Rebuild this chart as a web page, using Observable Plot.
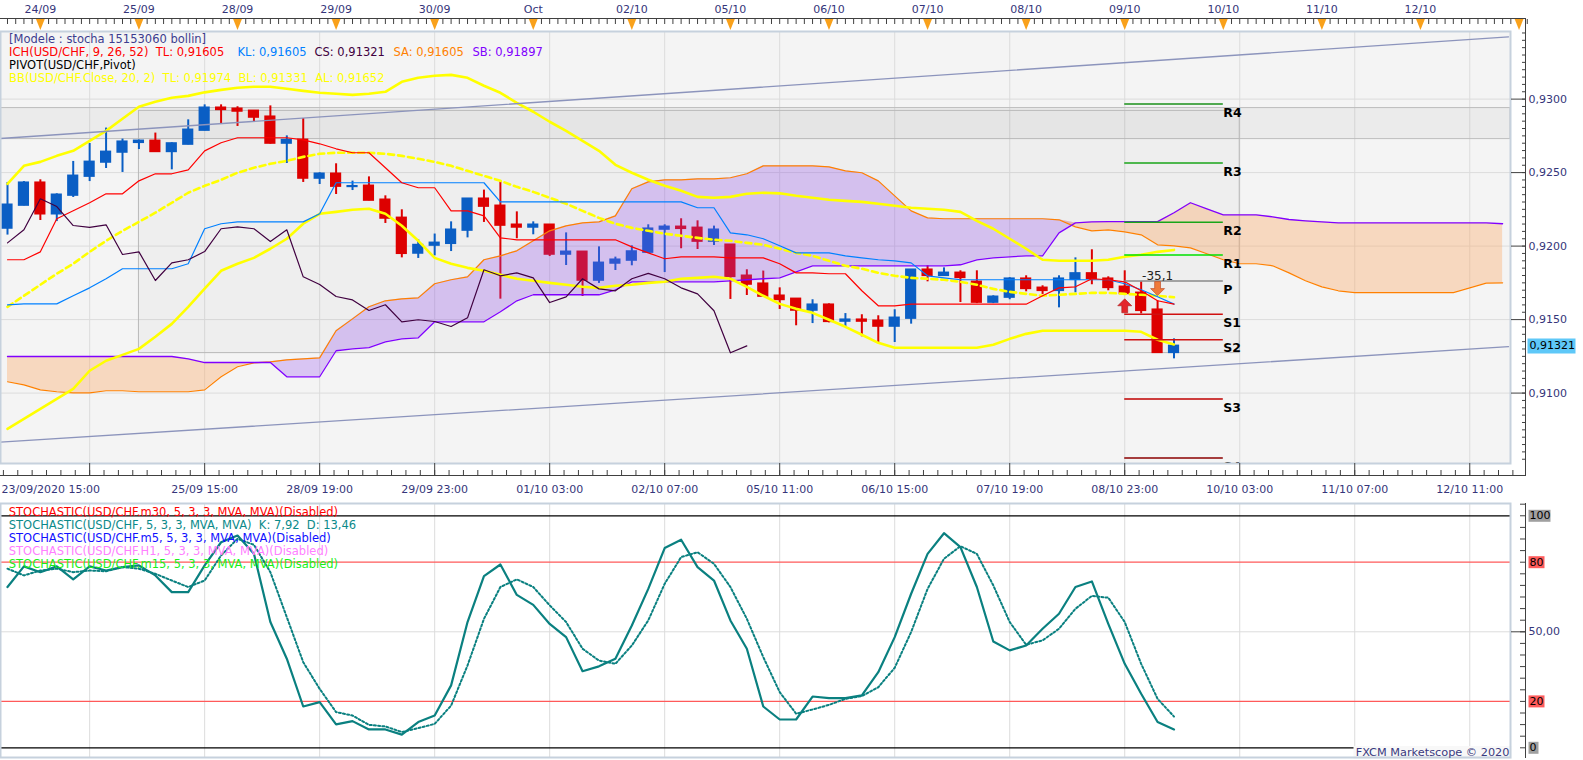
<!DOCTYPE html>
<html>
<head>
<meta charset="utf-8">
<script src="https://cdn.jsdelivr.net/npm/d3@7"></script>
<script src="https://cdn.jsdelivr.net/npm/@observablehq/plot@0.6"></script>
<style>
html, body { margin: 0; padding: 0; background: #ffffff; }
#chart { position: relative; width: 1583px; height: 760px; overflow: hidden; background: #ffffff; }
#chart svg { position: absolute; left: 0; display: block; }
</style>
</head>
<body>
<div id="chart"></div>
<script>
// ---------- USD/CHF 4-hour candles, index 0 = 23/09/2020 15:00 ----------
const open = [0.92120,0.92276,0.92431,0.92217,0.92344,0.92473,0.92569,0.92637,0.92703,0.92716,
0.92641,0.92691,0.92786,0.92941,0.92934,0.92920,0.92880,0.92698,0.92723,0.92460,
0.92492,0.92403,0.92410,0.92315,0.92192,0.91950,0.92004,0.92016,0.92106,0.92322,
0.92274,0.92145,0.92127,0.92145,0.91943,0.91961,0.91766,0.91882,0.91902,0.91956,
0.92113,0.92131,0.92124,0.92031,0.92009,0.91798,0.91744,0.91662,0.91641,0.91562,
0.91601,0.91487,0.91499,0.91492,0.91453,0.91507,0.91839,0.91798,0.91818,0.91757,
0.91616,0.91650,0.91778,0.91716,0.91696,0.91771,0.91814,0.91778,0.91723,0.91682,
0.91567,0.91274];
const high = [0.92433,0.92439,0.92451,0.92356,0.92576,0.92698,0.92803,0.92728,0.92721,0.92769,
0.92703,0.92859,0.92961,0.92961,0.92948,0.92922,0.92954,0.92750,0.92868,0.92499,
0.92560,0.92442,0.92471,0.92342,0.92247,0.92043,0.92082,0.92165,0.92323,0.92381,
0.92437,0.92233,0.92165,0.92147,0.92090,0.91963,0.91995,0.91925,0.92002,0.92145,
0.92145,0.92186,0.92172,0.92136,0.92010,0.91839,0.91830,0.91716,0.91642,0.91635,
0.91607,0.91541,0.91533,0.91526,0.91567,0.91840,0.91866,0.91852,0.91832,0.91832,
0.91662,0.91785,0.91798,0.91730,0.91798,0.91920,0.91975,0.91791,0.91832,0.91757,
0.91628,0.91369];
const low = [0.92075,0.92274,0.92174,0.92167,0.92331,0.92439,0.92528,0.92501,0.92657,0.92639,
0.92519,0.92689,0.92784,0.92830,0.92814,0.92844,0.92694,0.92562,0.92433,0.92419,
0.92351,0.92378,0.92308,0.92154,0.91920,0.91916,0.91934,0.91963,0.92056,0.92161,
0.91639,0.92050,0.92077,0.91929,0.91868,0.91657,0.91746,0.91834,0.91866,0.91954,
0.91820,0.91982,0.91977,0.92004,0.91637,0.91664,0.91655,0.91569,0.91458,0.91473,
0.91478,0.91446,0.91383,0.91344,0.91344,0.91469,0.91757,0.91796,0.91616,0.91609,
0.91609,0.91635,0.91689,0.91671,0.91580,0.91682,0.91737,0.91696,0.91669,0.91539,
0.91270,0.91233];
const close = [0.92281,0.92431,0.92217,0.92349,0.92478,0.92573,0.92641,0.92710,0.92716,0.92641,
0.92698,0.92791,0.92941,0.92927,0.92916,0.92875,0.92698,0.92721,0.92460,0.92492,
0.92405,0.92407,0.92310,0.92188,0.91948,0.92007,0.92022,0.92111,0.92322,0.92269,
0.92140,0.92127,0.92145,0.91943,0.91961,0.91766,0.91886,0.91907,0.91963,0.92118,
0.92131,0.92118,0.92031,0.92111,0.91791,0.91739,0.91657,0.91634,0.91562,0.91601,
0.91485,0.91499,0.91487,0.91453,0.91512,0.91839,0.91798,0.91818,0.91784,0.91616,
0.91655,0.91778,0.91709,0.91696,0.91778,0.91814,0.91778,0.91716,0.91675,0.91560,
0.91274,0.91321];

// ---------- Bollinger (20, 2) ----------
const bbUpper = [0.92424,0.92546,0.92573,0.92614,0.92648,0.92716,0.92784,0.92866,0.92948,0.92982,
0.93009,0.93022,0.93046,0.93063,0.93077,0.93084,0.93084,0.93070,0.93056,0.93043,
0.93036,0.93029,0.93036,0.93050,0.93118,0.93145,0.93159,0.93165,0.93145,0.93091,
0.93043,0.92975,0.92914,0.92846,0.92784,0.92716,0.92648,0.92553,0.92499,0.92451,
0.92410,0.92376,0.92335,0.92329,0.92335,0.92356,0.92363,0.92359,0.92342,0.92329,
0.92315,0.92308,0.92301,0.92288,0.92274,0.92261,0.92254,0.92247,0.92233,0.92172,
0.92118,0.92050,0.91982,0.91907,0.91900,0.91900,0.91900,0.91907,0.91927,0.91941,
0.91961,0.91974];
const bbMiddle = [0.91587,0.91662,0.91737,0.91812,0.91880,0.91961,0.92036,0.92104,0.92165,0.92227,
0.92295,0.92363,0.92410,0.92451,0.92499,0.92533,0.92560,0.92580,0.92607,0.92628,
0.92635,0.92635,0.92635,0.92628,0.92614,0.92594,0.92573,0.92546,0.92512,0.92478,
0.92444,0.92403,0.92369,0.92329,0.92288,0.92240,0.92192,0.92152,0.92124,0.92104,
0.92084,0.92070,0.92056,0.92043,0.92036,0.92022,0.92009,0.91982,0.91954,0.91934,
0.91900,0.91866,0.91846,0.91818,0.91798,0.91784,0.91778,0.91771,0.91757,0.91737,
0.91709,0.91689,0.91675,0.91662,0.91669,0.91675,0.91682,0.91682,0.91675,0.91669,
0.91662,0.91652];
const bbLower = [0.90757,0.90825,0.90893,0.90961,0.91029,0.91152,0.91220,0.91260,0.91301,0.91383,
0.91471,0.91587,0.91710,0.91832,0.91880,0.91920,0.91982,0.92050,0.92152,0.92220,
0.92233,0.92247,0.92254,0.92220,0.92138,0.92036,0.91920,0.91880,0.91852,0.91832,
0.91805,0.91778,0.91764,0.91750,0.91737,0.91723,0.91716,0.91730,0.91737,0.91750,
0.91757,0.91778,0.91784,0.91791,0.91778,0.91723,0.91662,0.91607,0.91573,0.91546,
0.91499,0.91451,0.91397,0.91342,0.91308,0.91308,0.91308,0.91308,0.91308,0.91308,
0.91329,0.91369,0.91403,0.91424,0.91424,0.91424,0.91424,0.91424,0.91424,0.91417,
0.91363,0.91331];

// ---------- Ichimoku (9, 26, 52) ----------
const tenkan = [0.91907,0.91907,0.91961,0.92186,0.92240,0.92295,0.92356,0.92356,0.92444,0.92492,
0.92492,0.92519,0.92648,0.92703,0.92737,0.92737,0.92737,0.92737,0.92723,0.92696,
0.92662,0.92635,0.92635,0.92533,0.92431,0.92397,0.92397,0.92240,0.92240,0.92206,
0.92056,0.92043,0.92043,0.92043,0.92043,0.92043,0.92043,0.92043,0.91995,0.91954,
0.91914,0.91927,0.91927,0.91927,0.91920,0.91920,0.91920,0.91880,0.91818,0.91818,
0.91812,0.91812,0.91696,0.91594,0.91594,0.91605,0.91605,0.91605,0.91605,0.91605,
0.91605,0.91605,0.91605,0.91662,0.91716,0.91723,0.91778,0.91771,0.91757,0.91696,
0.91628,0.91605];
const kijun = [0.91600,0.91607,0.91607,0.91607,0.91662,0.91716,0.91778,0.91846,0.91846,0.91846,
0.91846,0.91880,0.92118,0.92152,0.92165,0.92165,0.92165,0.92165,0.92165,0.92220,
0.92431,0.92431,0.92431,0.92431,0.92431,0.92431,0.92431,0.92431,0.92431,0.92431,
0.92301,0.92301,0.92301,0.92301,0.92301,0.92301,0.92301,0.92301,0.92301,0.92301,
0.92301,0.92301,0.92261,0.92261,0.92090,0.92077,0.92050,0.92002,0.91954,0.91954,
0.91954,0.91934,0.91920,0.91907,0.91900,0.91886,0.91798,0.91784,0.91771,0.91771,
0.91771,0.91771,0.91771,0.91771,0.91771,0.91771,0.91771,0.91771,0.91744,0.91703,
0.91655,0.91605];
const spanA = [0.91077,0.91056,0.91022,0.91009,0.91002,0.91002,0.91016,0.91016,0.91009,0.91009,
0.91009,0.91009,0.91022,0.91111,0.91179,0.91206,0.91213,0.91226,0.91233,0.91240,
0.91424,0.91505,0.91587,0.91628,0.91641,0.91648,0.91744,0.91771,0.91791,0.91907,
0.91934,0.91968,0.92036,0.92104,0.92138,0.92158,0.92165,0.92206,0.92390,0.92437,
0.92451,0.92451,0.92458,0.92458,0.92465,0.92492,0.92546,0.92546,0.92546,0.92546,
0.92539,0.92512,0.92499,0.92444,0.92342,0.92240,0.92192,0.92186,0.92186,0.92186,
0.92186,0.92186,0.92186,0.92186,0.92179,0.92131,0.92104,0.92111,0.92097,0.92077,
0.92009,0.92002,0.91988,0.91948,0.91907,0.91880,0.91880,0.91866,0.91818,0.91764,
0.91723,0.91696,0.91684,0.91684,0.91684,0.91684,0.91684,0.91684,0.91684,0.91716,
0.91748,0.91750];
const spanB = [0.91249,0.91249,0.91249,0.91249,0.91249,0.91249,0.91249,0.91249,0.91249,0.91249,
0.91249,0.91233,0.91208,0.91208,0.91208,0.91208,0.91208,0.91111,0.91111,0.91111,
0.91288,0.91301,0.91310,0.91349,0.91369,0.91376,0.91485,0.91485,0.91485,0.91485,
0.91553,0.91628,0.91669,0.91669,0.91669,0.91669,0.91669,0.91703,0.91757,0.91757,
0.91757,0.91757,0.91757,0.91757,0.91764,0.91771,0.91778,0.91784,0.91825,0.91866,
0.91866,0.91866,0.91866,0.91866,0.91866,0.91866,0.91866,0.91866,0.91873,0.91907,
0.91920,0.91927,0.91934,0.91934,0.92090,0.92158,0.92165,0.92167,0.92167,0.92167,
0.92167,0.92227,0.92295,0.92254,0.92213,0.92213,0.92213,0.92199,0.92181,0.92172,
0.92165,0.92158,0.92158,0.92158,0.92158,0.92158,0.92158,0.92158,0.92158,0.92158,
0.92158,0.92152];
const chikouLag = 26; // Chikou span = close plotted 26 candles back

// ---------- Stochastic (5, 3, 3) ----------
const stochK = [69.3,78.2,75.7,78.2,72.6,78.2,76.4,77.9,78.6,74.3,
67.1,67.1,78.6,88.6,91.5,83.6,54.2,38.4,17.8,19.7,
10.1,11.5,7.9,7.9,5.7,11.1,13.9,26.9,54.2,74.0,
79.0,65.9,61.6,53.4,47.7,33.0,35.1,38.4,52.7,68.5,
86.1,89.7,77.9,72.1,54.9,42.7,17.8,12.2,12.2,22.1,
21.4,21.4,22.6,32.6,47.7,66.4,83.6,92.5,86.5,69.3,
45.8,42.0,44.1,51.3,57.8,69.3,71.7,53.4,36.2,23.3,
11.1,7.92];
const stochD = [77.2,74.3,76.4,77.2,75.7,76.4,76.1,77.9,77.2,75.0,
72.1,69.3,72.1,82.9,90.1,87.5,75.7,56.3,36.9,25.4,
15.4,13.9,9.9,9.2,6.8,8.5,10.3,18.2,35.5,55.6,
69.3,72.6,69.3,61.4,54.2,42.7,37.6,36.2,44.1,54.9,
70.7,82.2,84.3,79.3,69.3,55.6,39.1,24.0,14.7,16.5,
18.5,21.1,22.3,26.1,34.5,49.9,68.5,81.5,86.9,83.6,
70.0,54.2,44.4,46.3,51.3,59.9,65.5,64.7,54.2,36.2,
21.1,13.46];

// ---------- Pivot levels ----------
const pivotNames = ["R4","R3","R2","R1","P","S1","S2","S3","S4"];
const pivotValues = [0.92966,0.92565,0.92163,0.91939,0.91762,0.91537,0.91363,0.90959,0.90558];
const pivotSpan = [68, 74];

// ---------- Drawing objects ----------
const channelIndex = [-0.43, 91.36];
const channelUpper = [0.92732, 0.93424];
const channelLower = [0.90666, 0.91316];
const bandPrices = [0.92728, 0.92939];
const boxIndex = [8, 75];
const boxPrices = [0.91272, 0.92920];

// ---------- Signals ----------
const signalIndex = [68, 70];
const signalPrice = [0.91594, 0.91711];
const signalDirection = ["up", "down"];
const noteIndex = [70];
const notePrice = [0.91798];
const noteText = ["-35,1"];
const lastPrice = [0.91321];

// ---------- Axes ----------
const priceTicks = [0.9100, 0.9150, 0.9200, 0.9250, 0.9300];
const dayTickIndex = [2,8,14,20,26,32,38,44,50,56,62,68,74,80,86,92];
const dayLabels = ["24/09","25/09","28/09","29/09","30/09","Oct","02/10","05/10","06/10","07/10","08/10","09/10","10/10","11/10","12/10"];
const timeTickIndex = [5,12,19,26,33,40,47,54,61,68,75,82,89];
const timeLabelIndex = [12,19,26,33,40,47,54,61,68,75,82,89];
const timeLabels = ["25/09 15:00","28/09 19:00","29/09 23:00","01/10 03:00","02/10 07:00","05/10 11:00","06/10 15:00","07/10 19:00","08/10 23:00","10/10 03:00","11/10 07:00","12/10 11:00"];
const startLabel = ["23/09/2020 15:00"];
const stochTagValues = [100, 80, 20, 0];
const stochTagLabels = ["100", "80", "20", "0"];
const stochMidTick = [50];

// ---------- Legend texts ----------
const legendTop = ["[Modele : stocha 15153060 bollin]", "PIVOT(USD/CHF,Pivot)", "BB(USD/CHF.Close, 20, 2)  TL: 0,91974  BL: 0,91331  AL: 0,91652"];
const legendIch = ["ICH(USD/CHF, 9, 26, 52)  TL: 0,91605", "KL: 0,91605", "CS: 0,91321", "SA: 0,91605", "SB: 0,91897"];
const legendStoch = ["STOCHASTIC(USD/CHF.m30, 5, 3, 3, MVA, MVA)(Disabled)",
  "STOCHASTIC(USD/CHF, 5, 3, 3, MVA, MVA)  K: 7,92  D: 13,46",
  "STOCHASTIC(USD/CHF.m5, 5, 3, 3, MVA, MVA)(Disabled)",
  "STOCHASTIC(USD/CHF.H1, 5, 3, 3, MVA, MVA)(Disabled)",
  "STOCHASTIC(USD/CHF.m15, 5, 3, 3, MVA, MVA)(Disabled)"];
const footer = ["FXCM Marketscope \u00a9 2020"];

// ================= styles / layout =================
const FONT = "DejaVu Sans";
const NAVY = "#35357a";
const TICK = "#404040";
const UP = "#0a5ec4", DOWN = "#dd0000";
const W = 1583, MR = 73;
const xDomain = [-0.426, 91.48];
const priceDomain = [0.90521, 0.93460];
const fmtPrice = d => d.toFixed(4).replace(".", ",");
const fmtLast = d => d.toFixed(5).replace(".", ",");

const candles = open.map((o, i) => ({i, o, h: high[i], l: low[i], c: close[i]}));
const series = arr => arr.map((v, i) => ({i, v}));
const cloud = spanA.map((a, i) => ({i, a, b: spanB[i], hi: Math.max(a, spanB[i])}));
const chikou = close.slice(chikouLag).map((v, j) => ({i: j, v}));
const pivots = pivotNames.map((n, k) => ({n, v: pivotValues[k]}));
const pivotColors = ["#1a901a","#19a519","#19a519","#00e000","#888888","#d01010","#d01010","#c00000","#8b0000"];
const signals = signalIndex.map((i, k) => ({i, p: signalPrice[k], d: signalDirection[k]}));

const arrowUp = {draw(ctx, size) { const r = Math.sqrt(size / Math.PI), s = r * 0.42;
  ctx.moveTo(0, -r); ctx.lineTo(r, 0); ctx.lineTo(s, 0); ctx.lineTo(s, r); ctx.lineTo(-s, r); ctx.lineTo(-s, 0); ctx.lineTo(-r, 0); ctx.closePath(); }};
const arrowDown = {draw(ctx, size) { const r = Math.sqrt(size / Math.PI), s = r * 0.42;
  ctx.moveTo(0, r); ctx.lineTo(r, 0); ctx.lineTo(s, 0); ctx.lineTo(s, -r); ctx.lineTo(-s, -r); ctx.lineTo(-s, 0); ctx.lineTo(-r, 0); ctx.closePath(); }};
const triDown = {draw(ctx, size) { const r = Math.sqrt(size / Math.PI);
  ctx.moveTo(-r * 0.8, -r); ctx.lineTo(r * 0.8, -r); ctx.lineTo(0, r); ctx.closePath(); }};
// fixed-size label background (w x h pixels), used as a dot symbol
const tagBox = (w, h) => ({draw(ctx) { ctx.rect(-w / 2, -h / 2, w, h); }});

const topMinor = d3.range(-0.5, 92.6, 0.5);
const bottomMinor = d3.range(-0.25, 92.3, 0.875);
const priceMinor = d3.range(1811, 1870).map(k => k * 0.0005);

const legendIchDx = [8.6, 237, 314, 393, 472];
const legendIchColors = ["#ff0000", "#0080ff", "#400040", "#ff8000", "#8000ff"];
const legendTopDy = [8, 34, 47];
const legendTopColors = ["#3d3d8f", "#000000", "#ffff00"];
const legendStochColors = ["#ff0000", "#0a8a8a", "#1010ff", "#ff80ff", "#19ee19"];
const stochTagWidth = [22, 16, 16, 10];
const stochTagFill = ["#a0a0a0", "#ff5c5c", "#ff5c5c", "#a0a0a0"];

// ================= price panel =================
const p1 = Plot.plot({
  width: W, height: 500,
  marginLeft: 0, marginRight: MR, marginTop: 31, marginBottom: 37,
  x: {domain: xDomain},
  y: {domain: priceDomain},
  style: {fontFamily: FONT, fontSize: "11px", background: "transparent", overflow: "visible"},
  marks: [
    Plot.frame({fill: "#f4f4f4", stroke: null}),
    Plot.gridY(priceTicks, {stroke: "#dcdcdc", strokeOpacity: 1}),
    Plot.gridX(timeTickIndex, {stroke: "#dcdcdc", strokeOpacity: 1}),
    Plot.rect([bandPrices], {x1: () => xDomain[0], x2: () => xDomain[1], y1: d => d[0], y2: d => d[1], fill: "#000", fillOpacity: 0.035, stroke: "#bdbdbd"}),
    Plot.rect([boxPrices], {x1: () => boxIndex[0], x2: () => boxIndex[1], y1: d => d[0], y2: d => d[1], fill: "#000", fillOpacity: 0.022, stroke: "#b8b8b8"}),
    Plot.ruleX(candles, {x: "i", y1: "l", y2: "h", stroke: d => d.c >= d.o ? UP : DOWN, strokeWidth: 2}),
    Plot.rect(candles, {x1: d => d.i - 0.34, x2: d => d.i + 0.34, y1: "o", y2: "c", fill: d => d.c >= d.o ? UP : DOWN, insetTop: -0.8, insetBottom: -0.8}),
    Plot.areaY(cloud, {x: "i", y1: "b", y2: "hi", fill: "rgb(145,70,240)", fillOpacity: 0.27}),
    Plot.areaY(cloud, {x: "i", y1: "a", y2: "hi", fill: "rgb(255,160,80)", fillOpacity: 0.32}),
    Plot.line(series(spanA), {x: "i", y: "v", stroke: "#ff8000", strokeWidth: 1.2}),
    Plot.line(series(spanB), {x: "i", y: "v", stroke: "#8000ff", strokeWidth: 1.3}),
    Plot.line(series(bbUpper), {x: "i", y: "v", stroke: "#ffff00", strokeWidth: 2.6}),
    Plot.line(series(bbLower), {x: "i", y: "v", stroke: "#ffff00", strokeWidth: 2.6}),
    Plot.line(series(bbMiddle), {x: "i", y: "v", stroke: "#ffff00", strokeWidth: 2.6, strokeDasharray: "6,4"}),
    Plot.line(series(kijun), {x: "i", y: "v", stroke: "#0080ff", strokeWidth: 1.2}),
    Plot.line(series(tenkan), {x: "i", y: "v", stroke: "#ff0000", strokeWidth: 1.2}),
    Plot.line(chikou, {x: "i", y: "v", stroke: "#400040", strokeWidth: 1.2}),
    Plot.line(channelIndex.map((i, k) => ({i, v: channelUpper[k]})), {x: "i", y: "v", stroke: "#8c94bc", strokeWidth: 1.3}),
    Plot.line(channelIndex.map((i, k) => ({i, v: channelLower[k]})), {x: "i", y: "v", stroke: "#8c94bc", strokeWidth: 1.3}),
    Plot.ruleY(pivots, {y: "v", x1: () => pivotSpan[0], x2: () => pivotSpan[1], stroke: (d, k) => pivotColors[k], strokeWidth: 1.5}),
    Plot.text(pivots, {x: () => pivotSpan[1], y: "v", text: "n", textAnchor: "start", lineAnchor: "middle", dy: 8.5, fontSize: 12.5, fontWeight: "bold", fill: "#000", clip: true}),
    Plot.dot(signals.filter(d => d.d === "up"), {x: "i", y: "p", symbol: arrowUp, r: 7, fill: "#e3262b", stroke: "#a81818", strokeWidth: 0.6}),
    Plot.dot(signals.filter(d => d.d === "down"), {x: "i", y: "p", symbol: arrowDown, r: 7, fill: "#f07a3a", stroke: "#b8401c", strokeWidth: 0.6}),
    Plot.text(noteText, {x: (d, k) => noteIndex[k], y: (d, k) => notePrice[k], text: d => d, fill: "#222", fontSize: 12, lineAnchor: "middle"}),
    Plot.frame({stroke: "#c6d1dd", strokeWidth: 2}),
    // legend
    ...legendIch.map((t, k) => Plot.text([t], {frameAnchor: "top-left", dx: legendIchDx[k], dy: 21, text: d => d, fill: legendIchColors[k], fontSize: 11.5, textAnchor: "start", lineAnchor: "middle"})),
    ...legendTop.map((t, k) => Plot.text([t], {frameAnchor: "top-left", dx: 8.6, dy: legendTopDy[k], text: d => d, fill: legendTopColors[k], fontSize: 11.5, textAnchor: "start", lineAnchor: "middle"})),
    // right price axis
    Plot.axisY(priceTicks, {anchor: "right", tickSize: 15, tickPadding: 3, tickFormat: fmtPrice, fill: NAVY, stroke: TICK, fontSize: 11, label: null}),
    Plot.axisY(priceMinor, {anchor: "right", tickSize: 4, dx: 11, fill: "none", stroke: TICK, label: null}),
    Plot.dot(lastPrice, {y: d => d, frameAnchor: "right", dx: 41, symbol: tagBox(48, 15), fill: "#5ec8f8", stroke: null}),
    Plot.text(lastPrice, {y: d => d, frameAnchor: "right", dx: 19, text: fmtLast, textAnchor: "start", lineAnchor: "middle", fill: "#000", fontSize: 11}),
    // top time axis
    Plot.axisX(topMinor, {anchor: "top", tickSize: 5, dy: -8, fill: "none", stroke: TICK, label: null}),
    Plot.dot(dayTickIndex, {x: d => d, frameAnchor: "top", dy: -7, symbol: triDown, r: 5.5, fill: "#f9a11b"}),
    Plot.text(dayLabels, {x: (d, k) => dayTickIndex[k], frameAnchor: "top", dy: -22, text: d => d, fill: NAVY, fontSize: 11, lineAnchor: "middle"}),
    // bottom time axis
    Plot.axisX(timeTickIndex, {anchor: "bottom", tickSize: 12, fill: "none", stroke: TICK, label: null}),
    Plot.axisX(bottomMinor, {anchor: "bottom", tickSize: 5, dy: 7, fill: "none", stroke: TICK, label: null}),
    Plot.text(timeLabels, {x: (d, k) => timeLabelIndex[k], frameAnchor: "bottom", dy: 26, text: d => d, fill: NAVY, fontSize: 11, lineAnchor: "middle"}),
    Plot.text(startLabel, {frameAnchor: "bottom-left", dy: 26, dx: 1, text: d => d, fill: NAVY, fontSize: 11, textAnchor: "start", lineAnchor: "middle"})
  ]
});

// ================= stochastic panel =================
const p2 = Plot.plot({
  width: W, height: 260,
  marginLeft: 0, marginRight: MR, marginTop: 3, marginBottom: 3,
  x: {domain: xDomain, axis: null},
  y: {domain: [-4.18, 105.3]},
  style: {fontFamily: FONT, fontSize: "11px", background: "transparent", overflow: "visible"},
  marks: [
    Plot.frame({fill: "#ffffff", stroke: null}),
    Plot.gridX(timeTickIndex, {stroke: "#dcdcdc", strokeOpacity: 1}),
    Plot.gridY(stochMidTick, {stroke: "#dcdcdc", strokeOpacity: 1}),
    Plot.ruleY([80, 20], {stroke: "#ff5a5a", strokeWidth: 1.2}),
    Plot.ruleY([100, 0], {stroke: "#000", strokeWidth: 1.2}),
    Plot.line(series(stochD), {x: "i", y: "v", stroke: "#0a8080", strokeWidth: 2, strokeDasharray: "2,2.2"}),
    Plot.line(series(stochK), {x: "i", y: "v", stroke: "#0a8080", strokeWidth: 2.2}),
    Plot.dot(footer, {frameAnchor: "bottom-right", dx: -78, dy: -5, symbol: tagBox(158, 13), fill: "#f8f8f8", stroke: null}),
    Plot.frame({stroke: "#c6d1dd", strokeWidth: 2}),
    ...legendStoch.map((t, k) => Plot.text([t], {frameAnchor: "top-left", dx: 8.3, dy: 8.5 + 13 * k, text: d => d, fill: legendStochColors[k], fontSize: 11.5, textAnchor: "start", lineAnchor: "middle"})),
    Plot.axisY(d3.range(0, 106, 5), {anchor: "right", tickSize: 6, dx: 9, fill: "none", stroke: TICK, label: null}),
    Plot.axisY(stochMidTick, {anchor: "right", tickSize: 15, tickPadding: 3, tickFormat: d => d.toFixed(2).replace(".", ","), fill: NAVY, stroke: TICK, fontSize: 11, label: null}),
    ...stochTagValues.map((v, k) => Plot.dot([v], {y: d => d, frameAnchor: "right", dx: 18 + stochTagWidth[k] / 2, symbol: tagBox(stochTagWidth[k], 12), fill: stochTagFill[k], stroke: null})),
    Plot.text(stochTagValues, {y: d => d, frameAnchor: "right", dx: 19, text: (d, k) => stochTagLabels[k], textAnchor: "start", lineAnchor: "middle", fill: "#000", fontSize: 11}),
    Plot.text(footer, {frameAnchor: "bottom-right", dx: -1, dy: -5, text: d => d, textAnchor: "end", lineAnchor: "middle", fill: "#3a3a80", fontSize: 11.3})
  ]
});

const root = document.getElementById("chart");
p1.style.top = "0px";
p2.style.top = "500px";
root.appendChild(p1);
root.appendChild(p2);

// ---- chrome: axis base lines ----
const NS = "http://www.w3.org/2000/svg";
function addLine(svg, x1, y1, x2, y2, color) {
  const l = document.createElementNS(NS, "line");
  l.setAttribute("x1", x1); l.setAttribute("y1", y1); l.setAttribute("x2", x2); l.setAttribute("y2", y2);
  l.setAttribute("stroke", color); l.setAttribute("stroke-width", 1); l.setAttribute("shape-rendering", "crispEdges");
  svg.appendChild(l);
}
const axisX = W - MR + 15;
addLine(p1, 0, 18.5, axisX, 18.5, TICK);
addLine(p1, 0, 475.5, axisX, 475.5, TICK);
addLine(p1, axisX + 0.5, 18, axisX + 0.5, 476, TICK);
addLine(p2, axisX + 0.5, 3, axisX + 0.5, 258, TICK);
</script>
</body>
</html>
